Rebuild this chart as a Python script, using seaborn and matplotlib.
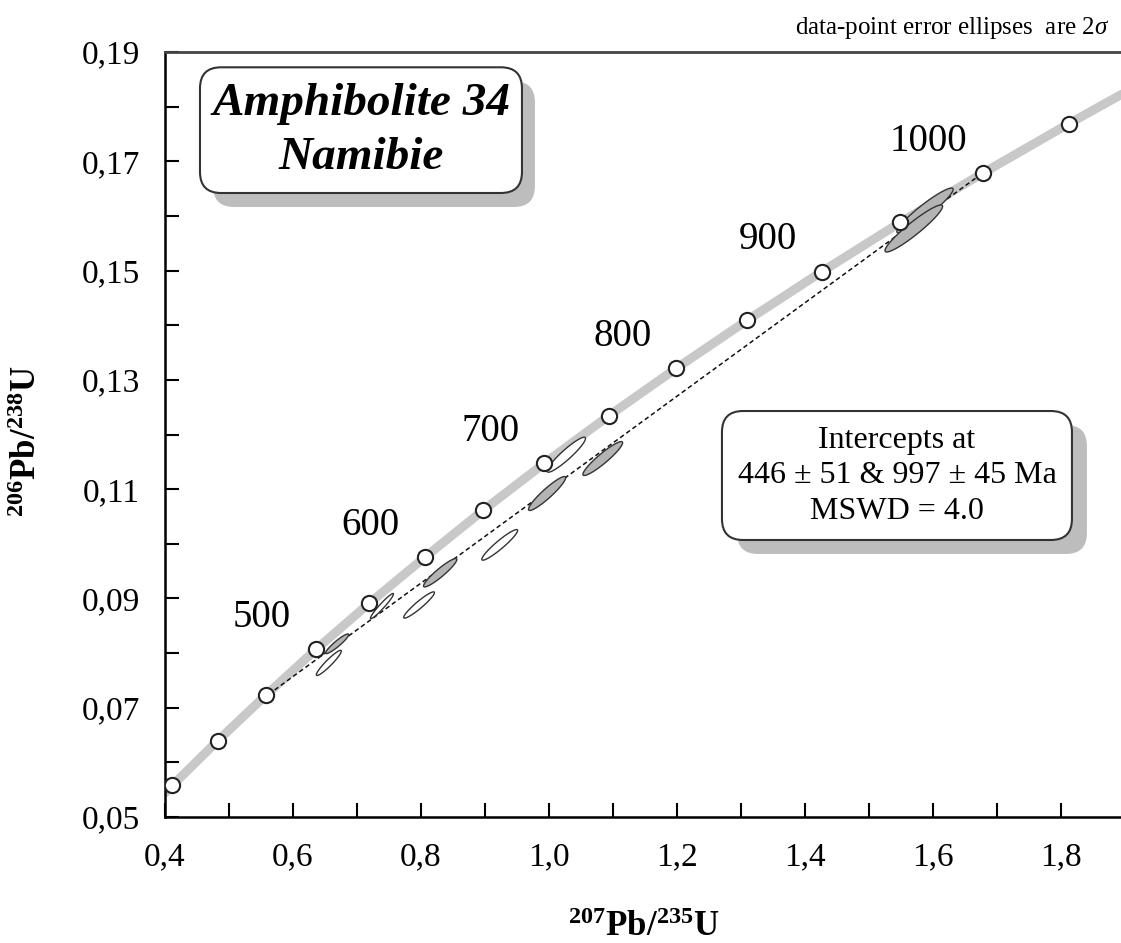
import numpy as np
import matplotlib
matplotlib.use('Agg')
import matplotlib.pyplot as plt
from matplotlib.patches import FancyBboxPatch
from matplotlib.ticker import FixedLocator, FuncFormatter
import seaborn as sns

# points de la concordia (tous les 50 Ma)
ages = [350, 400, 450, 500, 550, 600, 650, 700, 750, 800, 850, 900, 950, 1000, 1050]
conc_x = [0.4116, 0.4828, 0.5577, 0.6362, 0.7189, 0.8057, 0.8968, 0.9925,
          1.0931, 1.1987, 1.3097, 1.4263, 1.5488, 1.6774, 1.8125]
conc_y = [0.0558, 0.0640, 0.0723, 0.0807, 0.0891, 0.0975, 0.1061, 0.1147,
          0.1234, 0.1321, 0.1409, 0.1498, 0.1588, 0.1678, 0.1769]

# courbe grise : memes points + les deux bouts
curve_x = [0.400] + conc_x + [1.900]
curve_y = [0.0544] + conc_y + [0.1826]

label_ages = [500, 600, 700, 800, 900, 1000]

# discordia (intercepts 446 et 997 Ma)
disc_x = [0.552, 1.670]
disc_y = [0.0716, 0.1672]

# ellipses d'erreur 2 sigma : centre, demi-largeurs, correlation, remplissage
ell_x = [0.669, 0.656, 0.739, 0.830, 0.797, 1.027, 1.084, 0.997, 0.923, 1.5875, 1.570]
ell_y = [0.0817, 0.0782, 0.0886, 0.0947, 0.0888, 0.1163, 0.1156, 0.1092, 0.0998, 0.1610, 0.1577]
ell_sx = [0.018, 0.0195, 0.018, 0.026, 0.024, 0.030, 0.031, 0.029, 0.028, 0.044, 0.045]
ell_sy = [0.0018, 0.0023, 0.0023, 0.0026, 0.0024, 0.0032, 0.0031, 0.0031, 0.0028, 0.0041, 0.0043]
ell_rho = [0.93, 0.94, 0.96, 0.93, 0.94, 0.93, 0.93, 0.93, 0.94, 0.94, 0.94]
ell_grey = [True, False, False, True, False, False, True, True, False, True, True]

x_ticks = [0.4, 0.5, 0.6, 0.7, 0.8, 0.9, 1.0, 1.1, 1.2, 1.3, 1.4, 1.5, 1.6, 1.7, 1.8]
y_ticks = [0.05, 0.06, 0.07, 0.08, 0.09, 0.10, 0.11, 0.12, 0.13, 0.14, 0.15, 0.16, 0.17, 0.18, 0.19]

sns.set_theme(style='ticks')
plt.rcParams['font.family'] = ['Liberation Serif', 'DejaVu Serif']
plt.rcParams['mathtext.fontset'] = 'custom'
plt.rcParams['mathtext.rm'] = 'Liberation Serif'
plt.rcParams['mathtext.it'] = 'Liberation Serif:italic'
plt.rcParams['mathtext.bf'] = 'Liberation Serif:bold'
plt.rcParams['text.color'] = 'black'
plt.rcParams['xtick.labelcolor'] = 'black'
plt.rcParams['ytick.labelcolor'] = 'black'

fig = plt.figure(figsize=(11.21, 9.43), dpi=100)
ax = fig.add_axes([165 / 1121, 126 / 943, 956 / 1121, 765 / 943])

# concordia
sns.lineplot(x=curve_x, y=curve_y, sort=False, color='#c8c8c8', linewidth=6.5, ax=ax, zorder=1)
# discordia
ax.plot(disc_x, disc_y, color='#111111', lw=1.1, ls=(0, (3, 2)), zorder=2)

# ellipses
t = np.linspace(0, 2 * np.pi, 200)
for cx, cy, sx, sy, r, g in zip(ell_x, ell_y, ell_sx, ell_sy, ell_rho, ell_grey):
    ex = cx + sx * np.cos(t)
    ey = cy + sy * (r * np.cos(t) + np.sqrt(1 - r ** 2) * np.sin(t))
    ax.fill(ex, ey, facecolor='#b4b4b4' if g else 'white', edgecolor='#333333', lw=1.0, zorder=3)

# cercles de la concordia
sns.scatterplot(x=conc_x, y=conc_y, s=120, color='white', edgecolor='#222222',
                linewidth=1.5, ax=ax, zorder=4)

for a in label_ages:
    i = ages.index(a)
    ax.annotate(str(a), xy=(conc_x[i], conc_y[i]), xytext=(-54, 32), textcoords='offset pixels',
                ha='center', va='center', fontsize=28, color='black')

ax.set_xlim(0.4, 0.4 + 956 / 640)
ax.set_ylim(0.05, 0.19)

ax.xaxis.set_major_locator(FixedLocator(x_ticks))
ax.yaxis.set_major_locator(FixedLocator(y_ticks))
ax.xaxis.set_major_formatter(FuncFormatter(
    lambda v, p: f'{v:.1f}'.replace('.', ',') if round(v * 10) % 2 == 0 else ''))
ax.yaxis.set_major_formatter(FuncFormatter(
    lambda v, p: f'{v:.2f}'.replace('.', ',') if round(v * 100) % 2 == 1 else ''))
ax.tick_params(direction='in', length=10, width=1.5, color='black', labelcolor='black',
               labelsize=24, pad=18)

for s in ['left', 'bottom']:
    ax.spines[s].set_color('black')
    ax.spines[s].set_linewidth(1.8)
ax.spines['top'].set_color('#444444')
ax.spines['top'].set_linewidth(2)
ax.spines['right'].set_visible(False)
ax.set_xlabel('')
ax.set_ylabel('')


def shadow_box(x0, y0, x1, y1, dx=14, dy=14):
    asp = 956 / 765
    sh = FancyBboxPatch((x0 + dx / 956, y0 - dy / 765), x1 - x0, y1 - y0,
                        boxstyle='round,pad=0,rounding_size=0.022', mutation_aspect=asp,
                        transform=ax.transAxes, fc='#bdbdbd', ec='none', zorder=6, clip_on=False)
    bx = FancyBboxPatch((x0, y0), x1 - x0, y1 - y0,
                        boxstyle='round,pad=0,rounding_size=0.022', mutation_aspect=asp,
                        transform=ax.transAxes, fc='white', ec='#333333', lw=1.5, zorder=7, clip_on=False)
    ax.add_patch(sh)
    ax.add_patch(bx)


# encadre titre
shadow_box(0.0366, 0.8157, 0.3734, 0.980, dx=13, dy=14)
ax.text(0.205, 0.897, 'Amphibolite 34\nNamibie', transform=ax.transAxes, ha='center', va='center',
        fontsize=34, fontweight='bold', fontstyle='italic', linespacing=1.38, zorder=8)

# encadre intercepts
shadow_box(0.5826, 0.3621, 0.9487, 0.5307, dx=15, dy=14)
ax.text(0.7657, 0.4458, 'Intercepts at\n446 ± 51 & 997 ± 45 Ma\nMSWD = 4.0', transform=ax.transAxes,
        ha='center', va='center', fontsize=23, linespacing=1.28, zorder=8)

fig.text(0.990, 0.970, r'data-point error ellipses  are 2$\sigma$', ha='right', va='center', fontsize=18)
fig.text(644 / 1121, 1 - 927 / 943, r'$^{\mathbf{207}}$Pb/$^{\mathbf{235}}$U', ha='center', va='center',
         fontsize=25, fontweight='bold')
fig.text(28 / 1121, 1 - 441 / 943, r'$^{\mathbf{206}}$Pb/$^{\mathbf{238}}$U', ha='center', va='center',
         fontsize=25, fontweight='bold', rotation=90)

fig.savefig('out.png', dpi=100)
